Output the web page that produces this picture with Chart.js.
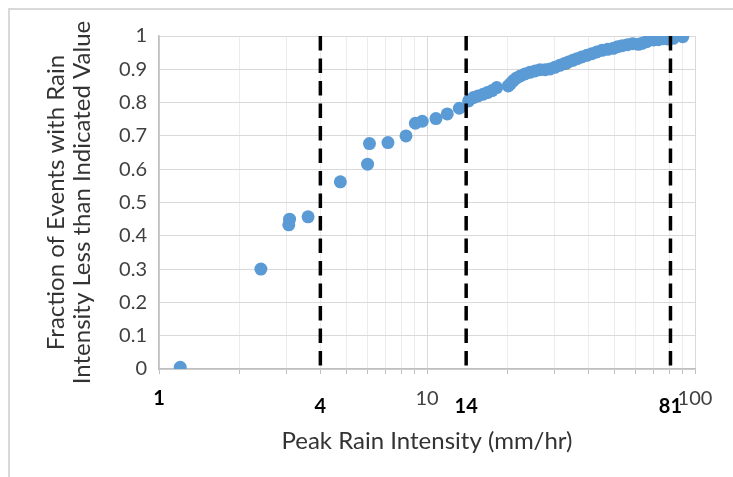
<!DOCTYPE html>
<html lang="en">
<head>
  <meta charset="UTF-8">
  <title>Peak Rain Intensity</title>
  <style>
    body {
      margin: 0;
      padding: 0;
      background: #ffffff;
      font-family: Lato, sans-serif;
    }
    .frame {
      position: absolute;
      left: 8px;
      top: 8px;
      width: 760px;
      height: 500px;
      border: 2px solid #d9d9d9;
    }
    .wrap {
      position: absolute;
      left: 0;
      top: 0;
      width: 733px;
      height: 477px;
    }
  </style>
</head>
<body>
  <div class="frame"></div>
  <div class="wrap"><canvas id="chart"></canvas></div>

  <script src="https://cdn.jsdelivr.net/npm/chart.js"></script>
  <script>
    // peak intensity (mm/hr) and cumulative fraction of events
    const rainIntensity = [1.2, 2.4, 3.05, 3.07, 3.6, 4.75, 6.0, 6.1, 7.15, 8.35, 9.05, 9.6, 10.8, 11.9,
      13.2, 14.3, 14.9, 15.5, 16.2, 16.8, 17.5, 18.2, 20.1, 20.5, 21.0, 21.6, 22.3, 23.2, 24.2, 25.3,
      26.4, 27.6, 28.8, 30.0, 31.3, 32.5, 33.7, 35.0, 36.3, 37.8, 39.5, 41.2, 43.0, 45.0, 47.2, 49.6,
      51.5, 53.5, 56.0, 58.5, 61.5, 63.5, 66.0, 70.0, 73.0, 76.2, 79.0, 83.0, 90.0];
    const eventFraction = [0.005, 0.30, 0.433, 0.45, 0.457, 0.562, 0.615, 0.677, 0.68, 0.70, 0.738, 0.744, 0.752, 0.766,
      0.783, 0.805, 0.815, 0.820, 0.825, 0.830, 0.836, 0.845, 0.850, 0.857, 0.866, 0.874, 0.880, 0.886, 0.891, 0.895,
      0.899, 0.899, 0.901, 0.906, 0.912, 0.917, 0.922, 0.927, 0.932, 0.937, 0.942, 0.947, 0.952, 0.957, 0.960, 0.963,
      0.968, 0.971, 0.974, 0.977, 0.975, 0.978, 0.983, 0.988, 0.989, 0.992, 0.991, 0.993, 0.998];

    // the one point hidden under the blue ones
    const hiddenIntensity = [33.0];
    const hiddenFraction = [0.918];

    const cutoffValues = [4, 14, 81];
    const xGridValues = [1, 2, 3, 4, 5, 6, 7, 8, 9, 10, 20, 30, 40, 50, 60, 70, 80, 90, 100];
    const xTickValues = [1, 10, 100];
    const xTickText = ['1', '10', '100'];
    const xTickBold = [true, false, false];

    const points = rainIntensity.map((x, i) => ({ x: x, y: eventFraction[i] }));
    const hiddenPoints = hiddenIntensity.map((x, i) => ({ x: x, y: hiddenFraction[i] }));

    const cutoffSets = cutoffValues.map(v => ({
      data: [{ x: v, y: 1 }, { x: v, y: 0 }],
      showLine: true,
      borderColor: '#000000',
      borderWidth: 3.5,
      borderDash: [14.5, 8],
      pointRadius: 0,
      order: 0
    }));

    // x tick labels drawn by hand: some bold, cutoffs sit a bit lower
    const xLabelPlugin = {
      id: 'xLabels',
      afterDraw(chart) {
        const ctx = chart.ctx;
        const xs = chart.scales.x;
        ctx.save();
        ctx.textAlign = 'center';
        ctx.textBaseline = 'middle';
        xTickValues.forEach((v, i) => {
          ctx.font = (xTickBold[i] ? 'bold ' : '') + '20px Lato';
          ctx.fillStyle = xTickBold[i] ? '#000000' : '#404040';
          ctx.fillText(xTickText[i], xs.getPixelForValue(v), 399);
        });
        ctx.font = 'bold 20px Lato';
        ctx.fillStyle = '#000000';
        cutoffValues.forEach(v => {
          ctx.fillText(String(v), xs.getPixelForValue(v), 407);
        });
        ctx.restore();
      }
    };

    new Chart(document.getElementById('chart'), {
      type: 'scatter',
      data: {
        datasets: [
          ...cutoffSets,
          {
            data: points,
            backgroundColor: '#5b9bd5',
            borderColor: '#5b9bd5',
            borderWidth: 0,
            pointRadius: 6.5,
            order: 1
          },
          {
            data: hiddenPoints,
            backgroundColor: '#9c7a1c',
            borderWidth: 0,
            pointRadius: 6.5,
            order: 2
          }
        ]
      },
      options: {
        responsive: true,
        maintainAspectRatio: false,
        animation: false,
        layout: { padding: { left: 0, top: 36, right: 38, bottom: 0 } },
        plugins: {
          legend: { display: false },
          tooltip: { enabled: false }
        },
        scales: {
          x: {
            type: 'logarithmic',
            min: 1,
            max: 100,
            afterBuildTicks: s => { s.ticks = xGridValues.map(v => ({ value: v })); },
            afterFit: s => { s.height = 108; },
            ticks: { display: false },
            grid: {
              color: c => (c.tick && [1, 10, 100].includes(c.tick.value)) ? '#d9d9d9' : '#ececec',
              tickColor: '#bfbfbf',
              tickLength: 5,
              drawTicks: true
            },
            border: { color: '#bfbfbf', width: 1.5 },
            title: {
              display: true,
              text: 'Peak Rain Intensity (mm/hr)',
              color: '#333333',
              font: { family: 'Lato', size: 24 },
              padding: { top: 0, bottom: 21 }
            }
          },
          y: {
            min: 0,
            max: 1,
            afterFit: s => { s.width = 159; },
            ticks: {
              stepSize: 0.1,
              color: '#404040',
              font: { family: 'Lato', size: 20 },
              padding: 12,
              callback: v => String(+v.toFixed(1))
            },
            grid: { color: '#d9d9d9', drawTicks: false },
            border: { color: '#bfbfbf', width: 1.5 },
            title: {
              display: true,
              text: ['Fraction of Events with Rain', 'Intensity Less than Indicated Value'],
              color: '#333333',
              font: { family: 'Lato', size: 24, lineHeight: 1.05 },
              padding: { top: 44, bottom: 0 }
            }
          }
        }
      },
      plugins: [xLabelPlugin]
    });
  </script>
</body>
</html>
